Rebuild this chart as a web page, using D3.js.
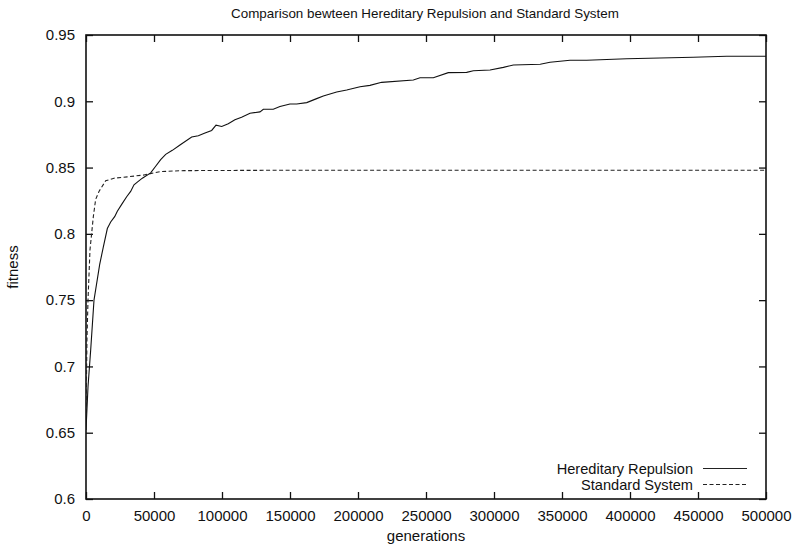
<!DOCTYPE html>
<html>
<head>
<meta charset="utf-8">
<script src="https://cdn.jsdelivr.net/npm/d3@7/dist/d3.min.js"></script>
<style>
  html, body { margin: 0; padding: 0; background: #fff; }
  svg { display: block; }
  text { font-family: "Liberation Sans", Arial, Helvetica, sans-serif; fill: #111; }
</style>
</head>
<body>
<svg id="chart" width="797" height="548"></svg>
<script>
// Fitness over generations for the two selection schemes
const repulsionGenerations = [0, 1500, 3450, 5880, 10070, 12720, 15690, 18140, 21080, 23040, 26720, 29900, 32840, 35290, 37740, 41420, 47550, 51230, 54900, 58600, 63470, 69100, 77700, 82600, 87500, 92400, 95600, 99800, 104600, 109500, 114400, 120600, 127900, 130400, 137700, 142600, 150000, 154900, 162300, 169600, 174500, 184300, 191700, 201500, 208800, 217400, 240700, 245600, 255400, 266400, 279900, 284800, 297100, 306900, 314200, 334000, 341200, 355900, 368200, 397600, 422000, 446500, 471100, 500000];
const repulsionFitness = [0.652, 0.685, 0.7125, 0.75, 0.777, 0.79, 0.804, 0.809, 0.813, 0.817, 0.823, 0.828, 0.832, 0.837, 0.839, 0.842, 0.846, 0.851, 0.856, 0.86, 0.863, 0.867, 0.873, 0.874, 0.876, 0.878, 0.882, 0.881, 0.883, 0.886, 0.888, 0.891, 0.892, 0.894, 0.894, 0.896, 0.898, 0.898, 0.899, 0.902, 0.904, 0.907, 0.9085, 0.911, 0.912, 0.9143, 0.916, 0.9178, 0.9178, 0.9216, 0.9218, 0.923, 0.9236, 0.9256, 0.9274, 0.9279, 0.9294, 0.931, 0.931, 0.9321, 0.9327, 0.9332, 0.934, 0.934];

const standardGenerations = [0, 700, 1470, 2940, 5390, 7100, 9560, 14460, 20590, 30400, 42650, 54900, 72000, 150000, 300000, 500000];
const standardFitness = [0.66, 0.72, 0.75, 0.788, 0.813, 0.826, 0.832, 0.84, 0.842, 0.843, 0.8444, 0.847, 0.8477, 0.848, 0.848, 0.848];

const xTicks = [0, 50000, 100000, 150000, 200000, 250000, 300000, 350000, 400000, 450000, 500000];
const yTicks = [0.6, 0.65, 0.7, 0.75, 0.8, 0.85, 0.9, 0.95];

const titleText = "Comparison bewteen Hereditary Repulsion and Standard System";
const xLabel = "generations";
const yLabel = "fitness";
const seriesNames = ["Hereditary Repulsion", "Standard System"];

const svg = d3.select("#chart");
const plot = { left: 86, right: 766, top: 35, bottom: 499 };

const x = d3.scaleLinear().domain([0, 500000]).range([plot.left, plot.right]);
const y = d3.scaleLinear().domain([0.6, 0.95]).range([plot.bottom, plot.top]);

const fontSize = 15;

// Axes with inward ticks on all four sides
const axisColor = "#111";
function styleAxis(g) {
  g.select(".domain").remove();
  g.selectAll(".tick line").attr("stroke", axisColor).attr("stroke-width", 1.3);
  g.selectAll(".tick text").attr("font-size", fontSize).attr("fill", "#111")
    .attr("font-family", '"Liberation Sans", Arial, sans-serif');
}

svg.append("g").attr("transform", `translate(0,${plot.bottom})`)
  .call(d3.axisBottom(x).tickValues(xTicks).tickSizeInner(-7).tickSizeOuter(0)
    .tickPadding(11).tickFormat(d3.format("d")))
  .call(styleAxis);

svg.append("g").attr("transform", `translate(0,${plot.top})`)
  .call(d3.axisTop(x).tickValues(xTicks).tickSizeInner(-7).tickSizeOuter(0).tickFormat(""))
  .call(styleAxis);

svg.append("g").attr("transform", `translate(${plot.left},0)`)
  .call(d3.axisLeft(y).tickValues(yTicks).tickSizeInner(-7).tickSizeOuter(0)
    .tickPadding(11).tickFormat(d => String(+d.toFixed(2))))
  .call(styleAxis);

svg.append("g").attr("transform", `translate(${plot.right},0)`)
  .call(d3.axisRight(y).tickValues(yTicks).tickSizeInner(-7).tickSizeOuter(0).tickFormat(""))
  .call(styleAxis);

// Plot frame
svg.append("rect")
  .attr("x", plot.left).attr("y", plot.top)
  .attr("width", plot.right - plot.left).attr("height", plot.bottom - plot.top)
  .attr("fill", "none").attr("stroke", axisColor).attr("stroke-width", 1.6);

// Series lines
svg.append("clipPath").attr("id", "plotClip")
  .append("rect").attr("x", plot.left).attr("y", plot.top)
  .attr("width", plot.right - plot.left).attr("height", plot.bottom - plot.top);

const line = d3.line().x(d => x(d[0])).y(d => y(d[1]));

const repulsion = repulsionGenerations.map((g, i) => [g, repulsionFitness[i]]);
const standard = standardGenerations.map((g, i) => [g, standardFitness[i]]);

svg.append("path").datum(standard)
  .attr("clip-path", "url(#plotClip)")
  .attr("d", line).attr("fill", "none")
  .attr("stroke", "#222").attr("stroke-width", 1.1)
  .attr("stroke-dasharray", "4,2.5");

svg.append("path").datum(repulsion)
  .attr("clip-path", "url(#plotClip)")
  .attr("d", line).attr("fill", "none")
  .attr("stroke", "#111").attr("stroke-width", 1.1);

// Legend
const legend = svg.append("g");
const legendRows = [
  { name: seriesNames[0], dash: null, y: 468.5 },
  { name: seriesNames[1], dash: "4,2.5", y: 484.5 }
];
legendRows.forEach(r => {
  legend.append("text").attr("x", 693).attr("y", r.y).attr("dy", "0.35em")
    .attr("text-anchor", "end").attr("font-size", 14.6).text(r.name);
  legend.append("line").attr("x1", 703).attr("x2", 747).attr("y1", r.y).attr("y2", r.y)
    .attr("stroke", "#222").attr("stroke-width", 1.1)
    .attr("stroke-dasharray", r.dash);
});

// Titles
svg.append("text").attr("x", 425).attr("y", 18).attr("text-anchor", "middle")
  .attr("font-size", 13.4).text(titleText);
svg.append("text").attr("x", (plot.left + plot.right) / 2).attr("y", 541).attr("text-anchor", "middle")
  .attr("font-size", fontSize).text(xLabel);
svg.append("text").attr("transform", `translate(18,${(plot.top + plot.bottom) / 2}) rotate(-90)`)
  .attr("text-anchor", "middle").attr("font-size", fontSize).text(yLabel);
</script>
</body>
</html>
